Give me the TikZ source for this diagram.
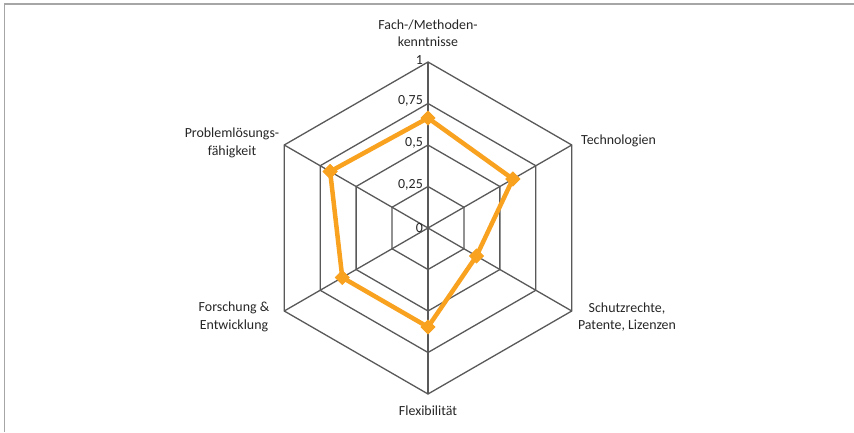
\documentclass[tikz,border=0pt]{standalone}
\usepackage{fontspec}
\setmainfont{Carlito}
\usetikzlibrary{shapes.geometric,calc}
\definecolor{serieso}{RGB}{248,162,32}
\begin{document}
\begin{tikzpicture}[x=1pt,y=1pt,
  grid/.style={draw=black!65,line width=1.3pt},
  frame/.style={draw=black!35,line width=1.6pt},
  series/.style={draw=serieso,line width=4.5pt,line join=round},
  mk/.style={diamond,fill=serieso,inner sep=0pt,minimum width=15pt,minimum height=15pt},
  lbl/.style={font=\fontsize{13.9}{17.5}\selectfont,text=black!85,align=center,inner sep=0pt},
  tick/.style={font=\fontsize{13.9}{17}\selectfont,text=black!85,anchor=east,inner sep=0pt}]
\useasboundingbox (0,0) rectangle (854,432);
\fill[white] (0,0) rectangle (854,432);
\draw[frame] (4.5,0) -- (4.5,428) -- (854,428);
\coordinate (c) at (428,204);
% grid hexagons
\foreach \r in {41.5,83,124.5,166}{
  \draw[grid] ($(c)+(90:\r)$) -- ($(c)+(30:\r)$) -- ($(c)+(-30:\r)$) -- ($(c)+(-90:\r)$) -- ($(c)+(-150:\r)$) -- ($(c)+(150:\r)$) -- cycle;
}
\foreach \a/\n in {90/v1,30/v2,-30/v3,-90/v4,-150/v5,150/v6}{
  \coordinate (\n) at ($(c)+(\a:166)$);
  \draw[grid] (c) -- (\n);
}
% tick labels
\node[tick] (t0) at (423,204) {0};
\node[tick] (t1) at (423,247) {0,25};
\node[tick] (t2) at (423,289) {0,5};
\node[tick] (t3) at (423,331) {0,75};
\node[tick] (t4) at (423,372) {1};
% category labels
\node[lbl] (l1) at (428,399) {Fach-/Methoden-\\kenntnisse};
\node[lbl,anchor=west] (l2) at (581,291) {Technologien};
\node[lbl] (l3) at (627,115) {Schutzrechte,\\Patente, Lizenzen};
\node[lbl] (l4) at (428,21) {Flexibilität};
\node[lbl] (l5) at (234,115) {Forschung \&\\Entwicklung};
\node[lbl] (l6) at (232,289) {Problemlösungs-\\fähigkeit};
% data
\node[mk] (d1) at ($(c)+(90:110)$) {};
\node[mk] (d2) at ($(c)+(30:98)$) {};
\node[mk] (d3) at ($(c)+(-30:56)$) {};
\node[mk] (d4) at ($(c)+(-90:99)$) {};
\node[mk] (d5) at ($(c)+(-150:99)$) {};
\node[mk] (d6) at ($(c)+(150:113)$) {};
\draw[series] (d1.center) -- (d2.center) -- (d3.center) -- (d4.center) -- (d5.center) -- (d6.center) -- cycle;
\foreach \n in {d1,d2,d3,d4,d5,d6}{\node[mk] at (\n) {};}
\end{tikzpicture}
\end{document}
